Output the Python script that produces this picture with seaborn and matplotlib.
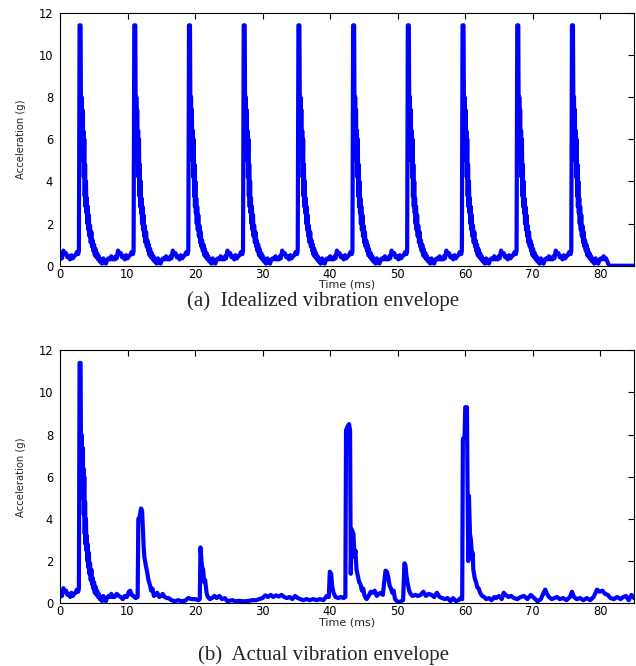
import numpy as np
import pandas as pd
import matplotlib
matplotlib.use("Agg")
import matplotlib.pyplot as plt
import seaborn as sns

# ---------------- data ----------------
# one idealized pulse (ms, g); the idealized envelope repeats it every 8.1 ms
pulse_t = [0.0, 0.15, 0.3, 0.5, 0.7, 0.9, 1.1, 1.3, 1.5, 1.7, 1.9, 2.1, 2.3, 2.5, 2.7, 2.8,
           2.9, 3.05, 3.1, 3.15, 3.2, 3.27, 3.33, 3.4, 3.47, 3.53, 3.6, 3.66, 3.72, 3.78,
           3.85, 3.92, 3.98, 4.05, 4.12, 4.2, 4.28, 4.36, 4.45, 4.55, 4.65, 4.75, 4.85,
           4.95, 5.05, 5.15, 5.25, 5.4, 5.5, 5.65, 5.75, 5.9, 6.05, 6.2, 6.4, 6.6, 6.8,
           7.0, 7.2, 7.4, 7.6, 7.8, 7.95]
pulse_g = [0.3, 0.45, 0.35, 0.72, 0.55, 0.6, 0.4, 0.45, 0.3, 0.5, 0.35, 0.45, 0.5, 0.65, 0.55, 0.7,
           11.4, 11.4, 8.0, 6.0, 8.0, 5.8, 7.4, 5.0, 6.4, 4.2, 6.0, 3.3, 4.8, 2.8,
           4.0, 2.5, 3.2, 2.0, 2.8, 1.7, 2.4, 1.4, 1.9, 1.1, 1.6, 0.9, 1.2,
           0.7, 1.0, 0.5, 0.8, 0.4, 0.6, 0.3, 0.45, 0.2, 0.3, 0.1, 0.35, 0.15, 0.1,
           0.3, 0.35, 0.3, 0.45, 0.3, 0.35]
pulse_period = 8.1
n_pulses = 10
ideal_tail_t = [81.3, 85.0]
ideal_tail_g = [0.0, 0.0]

# actual envelope after the first pulse (ms, g)
actual_t = [8.1, 8.4, 8.7, 9.0, 9.3, 9.6, 9.9, 10.2, 10.4, 10.6, 10.9, 11.2, 11.5,
            11.6, 11.8, 12.0, 12.15, 12.3, 12.4, 12.5, 12.7, 12.9, 13.1, 13.3, 13.5, 13.7,
            13.9, 14.1, 14.4, 14.7, 15.0, 15.2, 15.5, 15.8, 16.1, 16.5, 17.0, 17.5, 18.0,
            18.5, 19.0, 19.5, 20.0, 20.5, 20.7, 20.8, 20.95, 21.05, 21.2, 21.35, 21.5, 21.7,
            21.9, 22.2, 22.5, 22.9, 23.2, 23.6, 24.0, 24.4, 24.8, 25.5, 26.0, 26.5, 27.0,
            27.5, 28.0, 28.5, 29.0, 29.5, 30.0, 30.4, 30.8, 31.2, 31.6, 32.0, 32.4, 32.8,
            33.2, 33.6, 34.0, 34.4, 34.8, 35.2, 35.6, 36.0, 36.5, 37.0, 37.5, 38.0, 38.5,
            39.0, 39.5, 39.8, 39.95, 40.15, 40.3, 40.5, 40.8, 41.2, 41.6, 42.0, 42.25,
            42.35, 42.6, 42.8, 42.95, 43.05, 43.2, 43.45, 43.6, 43.75, 43.9, 44.1, 44.3,
            44.5, 44.7, 44.9, 45.1, 45.4, 45.7, 46.0, 46.3, 46.6, 46.9, 47.2, 47.5, 47.8,
            48.0, 48.2, 48.4, 48.6, 48.8, 49.0, 49.2, 49.4, 49.6, 49.9, 50.2, 50.5, 50.8,
            51.0, 51.15, 51.3, 51.5, 51.7, 51.9, 52.2, 52.6, 53.0, 53.4, 53.8, 54.2, 54.6,
            55.0, 55.4, 55.8, 56.2, 56.6, 57.0, 57.4, 57.8, 58.2, 58.6, 59.0, 59.3, 59.55,
            59.65, 59.9, 60.0, 60.25, 60.35, 60.45, 60.55, 60.7, 60.85, 61.0, 61.1, 61.2,
            61.4, 61.6, 61.8, 62.0, 62.2, 62.5, 62.8, 63.1, 63.5, 63.9, 64.3, 64.6, 65.0,
            65.4, 65.7, 66.0, 66.4, 66.8, 67.2, 67.7, 68.2, 68.7, 69.2, 69.7, 70.2, 70.7,
            71.2, 71.6, 71.85, 72.1, 72.4, 72.8, 73.2, 73.6, 74.0, 74.5, 75.0, 75.5, 75.8,
            76.1, 76.5, 77.0, 77.5, 78.0, 78.5, 79.0, 79.5, 79.9, 80.3, 80.7, 81.1, 81.5,
            82.0, 82.5, 83.0, 83.4, 83.8, 84.2, 84.6, 85.0]
actual_g = [0.3, 0.45, 0.35, 0.3, 0.2, 0.35, 0.3, 0.55, 0.6, 0.4, 0.35, 0.25, 0.3,
            4.0, 4.1, 4.5, 4.4, 3.4, 2.6, 2.2, 1.8, 1.5, 1.1, 0.9, 0.6, 0.7,
            0.35, 0.4, 0.5, 0.3, 0.35, 0.45, 0.3, 0.25, 0.25, 0.15, 0.1, 0.15, 0.1,
            0.12, 0.25, 0.2, 0.2, 0.15, 0.2, 2.65, 2.0, 1.7, 1.6, 1.0, 1.1, 0.5,
            0.3, 0.2, 0.25, 0.35, 0.25, 0.35, 0.2, 0.25, 0.1, 0.15, 0.1, 0.12, 0.1,
            0.1, 0.12, 0.15, 0.15, 0.2, 0.25, 0.38, 0.3, 0.4, 0.3, 0.38, 0.32, 0.4,
            0.3, 0.25, 0.3, 0.2, 0.35, 0.25, 0.2, 0.15, 0.2, 0.15, 0.2, 0.15, 0.2,
            0.15, 0.35, 0.3, 1.5, 1.4, 0.8, 0.5, 0.3, 0.25, 0.3, 0.25, 0.3,
            8.2, 8.4, 8.5, 8.2, 1.4, 3.5, 3.3, 2.2, 2.5, 1.6, 1.3, 1.0,
            0.9, 0.6, 0.7, 0.35, 0.2, 0.35, 0.55, 0.5, 0.6, 0.35, 0.45, 0.5, 0.4,
            1.0, 1.55, 1.5, 1.25, 0.85, 0.7, 0.5, 0.6, 0.2, 0.1, 0.05, 0.1, 0.15,
            1.9, 1.8, 1.3, 0.9, 0.6, 0.45, 0.35, 0.4, 0.35, 0.4, 0.55, 0.35, 0.45,
            0.4, 0.3, 0.5, 0.3, 0.25, 0.2, 0.25, 0.1, 0.25, 0.1, 0.15, 0.25, 0.2,
            7.8, 7.9, 9.3, 9.3, 5.2, 2.0, 5.1, 3.3, 3.0, 2.2, 2.4, 1.6,
            1.2, 1.0, 0.75, 0.7, 0.5, 0.35, 0.3, 0.2, 0.25, 0.15, 0.3, 0.25, 0.35,
            0.2, 0.5, 0.4, 0.3, 0.35, 0.25, 0.2, 0.3, 0.35, 0.2, 0.4, 0.25, 0.1,
            0.2, 0.5, 0.65, 0.45, 0.3, 0.2, 0.25, 0.3, 0.2, 0.25, 0.15, 0.3, 0.55,
            0.3, 0.2, 0.25, 0.15, 0.25, 0.15, 0.3, 0.65, 0.55, 0.6, 0.45, 0.4, 0.25,
            0.2, 0.3, 0.2, 0.3, 0.35, 0.15, 0.4, 0.25]

x_ticks = [0, 10, 20, 30, 40, 50, 60, 70, 80]
y_ticks = [0, 2, 4, 6, 8, 10, 12]
x_label = "Time (ms)"
y_label = "Acceleration (g)"
captions = ["(a)  Idealized vibration envelope", "(b)  Actual vibration envelope"]

# ---------------- assemble series ----------------
pt = np.array(pulse_t)
pg = np.array(pulse_g)
ideal_df = pd.DataFrame({
    "t": np.concatenate([pt + k * pulse_period for k in range(n_pulses)] + [np.array(ideal_tail_t)]),
    "g": np.concatenate([pg for _ in range(n_pulses)] + [np.array(ideal_tail_g)]),
})
actual_df = pd.DataFrame({
    "t": np.concatenate([pt, np.array(actual_t)]),
    "g": np.concatenate([pg, np.array(actual_g)]),
})

# ---------------- styling ----------------
sns.set_style("white")
plt.rcParams["font.family"] = ["DejaVu Sans"]

fig = plt.figure(figsize=(6.36, 6.66), dpi=100)
ax1 = fig.add_axes([0.0943, 0.601, 0.9027, 0.380])
ax2 = fig.add_axes([0.0943, 0.0941, 0.9027, 0.380])

for ax, df, cap, cy in [(ax1, ideal_df, captions[0], 0.548), (ax2, actual_df, captions[1], 0.016)]:
    sns.lineplot(data=df, x="t", y="g", ax=ax, color="#0000ff", linewidth=3.0,
                 estimator=None, sort=False)
    ax.set_xlim(0, 85)
    ax.set_ylim(0, 12)
    ax.set_xticks(x_ticks)
    ax.set_yticks(y_ticks)
    ax.tick_params(direction="in", top=True, right=True, length=4, width=0.8,
                   labelsize=8.3, colors="black")
    ax.tick_params(axis="x", pad=1.5)
    ax.tick_params(axis="y", pad=5)
    for s in ax.spines.values():
        s.set_color("black")
        s.set_linewidth(0.8)
    ax.set_xlabel(x_label, fontsize=8, labelpad=-1)
    ax.set_ylabel(y_label, fontsize=7.2, labelpad=9)
    fig.text(0.508, cy, cap, ha="center", va="center", fontsize=15,
             family=["Liberation Serif", "DejaVu Serif"])

fig.savefig("out.png", dpi=100)
